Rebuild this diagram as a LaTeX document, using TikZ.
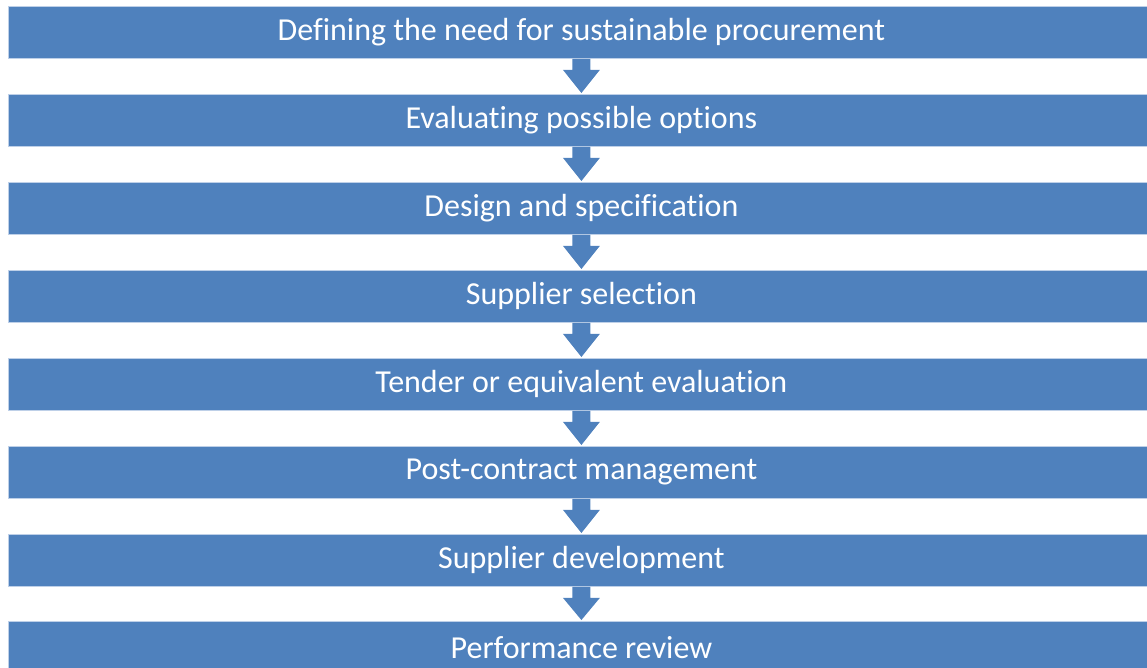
\documentclass[tikz,border=0pt]{standalone}
\usepackage{fontspec}
\setmainfont[Ligatures=NoCommon]{Carlito}
\definecolor{boxblue}{RGB}{79,129,189}
\definecolor{edgeblue}{RGB}{190,208,232}
\tikzset{
  stepbox/.style={fill=boxblue, draw=edgeblue, line width=0.8pt, minimum width=1146pt, minimum height=52pt, inner sep=0pt, text=white, font=\fontsize{32}{38}\selectfont, anchor=north west},
}
\newcommand\flowarrow[2]{%
  \fill[boxblue] ([xshift=-9pt]#1.south) -- ([xshift=-9pt,yshift=-11pt]#1.south) -- ([xshift=-18.5pt,yshift=-11pt]#1.south) -- ([yshift=1pt]#2.north) -- ([xshift=18.5pt,yshift=-11pt]#1.south) -- ([xshift=9pt,yshift=-11pt]#1.south) -- ([xshift=9pt]#1.south) -- cycle;}
\begin{document}
\begin{tikzpicture}[x=1pt,y=1pt]
\useasboundingbox (0,0) rectangle (1147,-667);
\begin{scope}
\clip (0,0) rectangle (1147,-667);
\node[stepbox] (s1) at (8,-6) {\raisebox{-2pt}{Defining the need for sustainable procurement}};
\node[stepbox] (s2) at (8,-94) {\raisebox{-2pt}{Evaluating possible options}};
\node[stepbox] (s3) at (8,-182) {\raisebox{-2pt}{Design and specification}};
\node[stepbox] (s4) at (8,-270) {\raisebox{-2pt}{Supplier selection}};
\node[stepbox] (s5) at (8,-358) {\raisebox{-2pt}{Tender or equivalent evaluation}};
\node[stepbox] (s6) at (8,-446) {\raisebox{-2pt}{Post-contract management}};
\node[stepbox] (s7) at (8,-534) {\raisebox{-2pt}{Supplier development}};
\node[stepbox] (s8) at (8,-621) {\raisebox{-2pt}{Performance review}};
\flowarrow{s1}{s2}
\flowarrow{s2}{s3}
\flowarrow{s3}{s4}
\flowarrow{s4}{s5}
\flowarrow{s5}{s6}
\flowarrow{s6}{s7}
\flowarrow{s7}{s8}
\end{scope}
\end{tikzpicture}
\end{document}
